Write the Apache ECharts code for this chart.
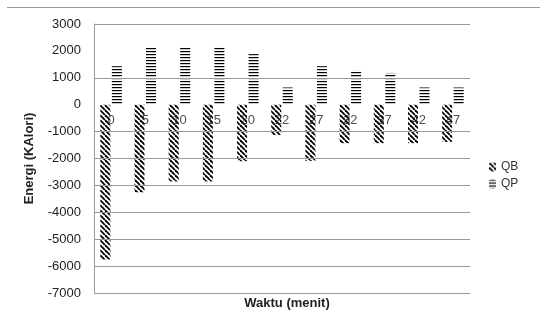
<!DOCTYPE html>
<html>
<head>
<meta charset="utf-8">
<script src="https://cdn.jsdelivr.net/npm/echarts@6/dist/echarts.min.js"></script>
<style>html,body{margin:0;padding:0;background:#fff}#c{width:540px;height:328px}</style>
</head>
<body>
<div id="c"></div>
<script>
const categories = ['0','5','10','15','20','22','27','32','37','42','47'];
const qbValues = [-5750,-3250,-2850,-2850,-2100,-1130,-2090,-1430,-1430,-1430,-1380];
const qpValues = [1430,2150,2150,2150,1880,640,1430,1260,1180,640,640];
const gridValues = [3000,1000,-1000,-2000,-3000,-4000,-5000,-6000,-7000];
const seriesNames = ['QB','QP'];

function diagPattern(){
  const c=document.createElement('canvas');c.width=5;c.height=5;
  const g=c.getContext('2d');g.strokeStyle='#000';g.lineWidth=1.8;
  for(const k of [-5,0,5]){g.beginPath();g.moveTo(k,0);g.lineTo(k+5,5);g.stroke();}
  return c;
}
function horizPattern(){
  const c=document.createElement('canvas');c.width=4;c.height=3;
  const g=c.getContext('2d');g.fillStyle='#000';g.fillRect(0,0,4,1.2);
  return c;
}
const font='Liberation Sans, Arial, sans-serif';
const chart=echarts.init(document.getElementById('c'),null,{renderer:'canvas'});
chart.setOption({
  animation:false,
  backgroundColor:'#fff',
  textStyle:{fontFamily:font},
  graphic:[{type:'line',shape:{x1:7,y1:7.5,x2:540,y2:7.5},style:{stroke:'#999',lineWidth:1}}],
  title:{text:'Waktu (menit)',left:282,top:292,textAlign:'center',
    textStyle:{fontSize:13,fontWeight:'bold',color:'#222',fontFamily:font}},
  grid:{left:94,right:70,top:24,bottom:35},
  legend:{orient:'vertical',left:484,top:156,itemWidth:7,itemHeight:9,itemGap:5,
    data:seriesNames,textStyle:{fontSize:12,color:'#333'}},
  xAxis:{type:'category',data:categories,
    axisLine:{show:false},axisTick:{show:false},axisLabel:{show:false}},
  yAxis:{type:'value',min:-7000,max:3000,interval:1000,
    axisLine:{show:true,lineStyle:{color:'#999'}},axisTick:{show:false},
    splitLine:{show:false},
    axisLabel:{fontSize:13,color:'#222',margin:13,formatter:v=>String(v)},
    name:'Energi (KAlori)',nameLocation:'middle',nameGap:58,
    nameTextStyle:{fontSize:13,fontWeight:'bold',color:'#222'}},
  series:[
    {name:'QB',type:'bar',data:qbValues,barWidth:10,barGap:'15%',
     itemStyle:{color:{image:diagPattern(),repeat:'repeat'}},
     markLine:{silent:true,symbol:'none',label:{show:false},
       lineStyle:{color:'#999',width:1,type:'solid'},
       data:gridValues.map(v=>({yAxis:v}))}},
    {name:'QP',type:'bar',data:qpValues,barWidth:10,
     itemStyle:{color:{image:horizPattern(),repeat:'repeat'}}},
    {name:'labels',type:'scatter',data:categories.map(c=>[c,0]),symbolSize:0,z:10,silent:true,
     label:{show:true,position:'bottom',distance:9,formatter:p=>p.value[0],
       fontSize:13,color:'#222',fontFamily:font}}
  ]
});
</script>
</body>
</html>
